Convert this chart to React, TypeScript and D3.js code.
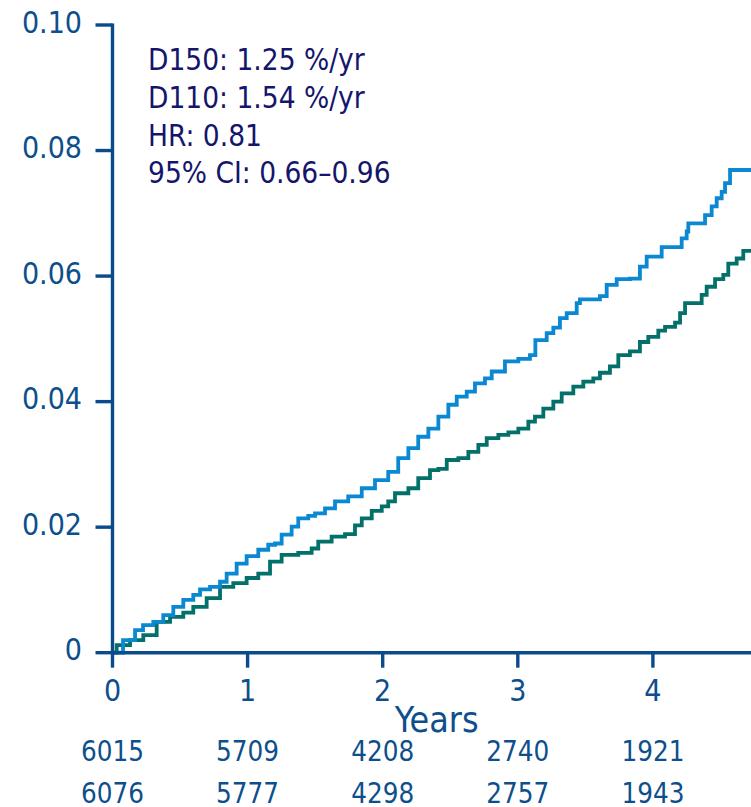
import React from "react";
import * as d3 from "d3";

// Cumulative incidence step curves (years, proportion)
const d110Times = [0, 0.078, 0.167, 0.226, 0.302, 0.376, 0.45, 0.524, 0.598, 0.648, 0.722, 0.796, 0.845, 0.919, 0.993, 1.079, 1.153, 1.203, 1.252, 1.326, 1.375, 1.449, 1.499, 1.573, 1.647, 1.745, 1.845, 1.943, 2.041, 2.115, 2.19, 2.263, 2.338, 2.412, 2.486, 2.548, 2.622, 2.683, 2.757, 2.807, 2.905, 3.004, 3.09, 3.13, 3.214, 3.263, 3.312, 3.362, 3.436, 3.46, 3.608, 3.658, 3.732, 3.83, 3.904, 3.954, 4.065, 4.213, 4.25, 4.262, 4.386, 4.435, 4.472, 4.509, 4.534, 4.571, 4.8];
const d110Values = [0, 0.002, 0.0036, 0.0044, 0.0049, 0.006, 0.0073, 0.0084, 0.0092, 0.0101, 0.0105, 0.0113, 0.0126, 0.0142, 0.0154, 0.0164, 0.0172, 0.0174, 0.0188, 0.0201, 0.0214, 0.0218, 0.0222, 0.023, 0.0241, 0.0249, 0.0262, 0.0275, 0.0288, 0.031, 0.0326, 0.0344, 0.0357, 0.0376, 0.0395, 0.0408, 0.0416, 0.0429, 0.0437, 0.0448, 0.0464, 0.0468, 0.0474, 0.0498, 0.0509, 0.0518, 0.0533, 0.0541, 0.0557, 0.0563, 0.0568, 0.0586, 0.0595, 0.0596, 0.0615, 0.0631, 0.0646, 0.066, 0.0671, 0.0684, 0.0697, 0.0711, 0.0724, 0.0734, 0.0748, 0.0769, 0.0769];

const d150Times = [0, 0.031, 0.13, 0.228, 0.327, 0.426, 0.524, 0.598, 0.697, 0.796, 0.894, 0.993, 1.079, 1.166, 1.252, 1.375, 1.474, 1.523, 1.622, 1.721, 1.795, 1.845, 1.919, 1.993, 2.041, 2.091, 2.19, 2.263, 2.35, 2.412, 2.474, 2.56, 2.634, 2.708, 2.77, 2.856, 2.93, 3.004, 3.078, 3.127, 3.189, 3.263, 3.325, 3.411, 3.485, 3.559, 3.608, 3.682, 3.744, 3.83, 3.904, 3.966, 4.04, 4.09, 4.164, 4.201, 4.238, 4.361, 4.398, 4.46, 4.521, 4.558, 4.62, 4.669, 4.8];
const d150Values = [0, 0.0012, 0.002, 0.0028, 0.0049, 0.0057, 0.0064, 0.0073, 0.0087, 0.0105, 0.0111, 0.0119, 0.0126, 0.0145, 0.0156, 0.0159, 0.0166, 0.0177, 0.0185, 0.0189, 0.0203, 0.0214, 0.0226, 0.0233, 0.0241, 0.0254, 0.0262, 0.0278, 0.0291, 0.0293, 0.0307, 0.031, 0.032, 0.0331, 0.0342, 0.0347, 0.0351, 0.0357, 0.0368, 0.0376, 0.0389, 0.04, 0.0413, 0.0424, 0.0432, 0.0437, 0.0446, 0.0456, 0.0474, 0.048, 0.0495, 0.0503, 0.0513, 0.0519, 0.0526, 0.0541, 0.0557, 0.057, 0.0583, 0.0595, 0.0602, 0.062, 0.0628, 0.064, 0.064];

const xTicks = [0, 1, 2, 3, 4];
const yTicks = [0, 0.02, 0.04, 0.06, 0.08, 0.1];
const yTickLabels = ["0", "0.02", "0.04", "0.06", "0.08", "0.10"];
const atRiskD150 = [6015, 5709, 4208, 2740, 1921];
const atRiskD110 = [6076, 5777, 4298, 2757, 1943];
const statLines = ["D150: 1.25 %/yr", "D110: 1.54 %/yr", "HR: 0.81", "95% CI: 0.66\u20130.96"];

const W = 751;
const H = 807;
const FONT = "'DejaVu Sans Condensed', 'DejaVu Sans', sans-serif";
const AXIS = "#0a4b8c";
const LABEL = "#0d4f8c";
const NAVY = "#15156c";
const BLUE = "#0a88d2";
const GREEN = "#03706a";

export default function App() {
  const x = d3.scaleLinear().domain([0, 5]).range([112.5, 112.5 + 5 * 135.1]);
  const y = d3.scaleLinear().domain([0, 0.1]).range([652.7, 25]);

  const line = d3
    .line<[number, number]>()
    .x((d) => x(d[0]))
    .y((d) => y(d[1]))
    .curve(d3.curveStepAfter);

  const blue = line(d110Times.map((t, i) => [t, d110Values[i]]) as [number, number][]) || "";
  const green = line(d150Times.map((t, i) => [t, d150Values[i]]) as [number, number][]) || "";

  const x0 = x(0);
  const y0 = y(0);

  return (
    <svg
      width={W}
      height={H}
      style={{ position: "absolute", left: 0, top: 0, display: "block", background: "#fff" }}
      fontFamily={FONT}
      fontStretch="condensed"
    >
      <rect width={W} height={H} fill="#fff" />

      {/* curves */}
      <path d={green} fill="none" stroke={GREEN} strokeWidth={3.8} strokeLinejoin="miter" />
      <path d={blue} fill="none" stroke={BLUE} strokeWidth={3.8} strokeLinejoin="miter" />

      {/* y axis */}
      <line x1={x0} x2={x0} y1={y(0.1) - 1.5} y2={y0 + 1.5} stroke={AXIS} strokeWidth={3.4} />
      {yTicks.map((v, i) => (
        <g key={"yt" + i}>
          <line x1={x0 - 17} x2={x0} y1={y(v)} y2={y(v)} stroke={AXIS} strokeWidth={3.4} />
          <text x={82} y={y(v) - 3} textAnchor="end" dominantBaseline="central" fontSize={30} fill={LABEL}>
            {yTickLabels[i]}
          </text>
        </g>
      ))}

      {/* x axis */}
      <line x1={x0 - 1.5} x2={W} y1={y0} y2={y0} stroke={AXIS} strokeWidth={3.4} />
      {xTicks.map((t) => (
        <g key={"xt" + t}>
          <line x1={x(t)} x2={x(t)} y1={y0} y2={y0 + 15} stroke={AXIS} strokeWidth={3.4} />
          <text x={x(t)} y={701} textAnchor="middle" fontSize={30} fill={LABEL}>
            {t}
          </text>
        </g>
      ))}
      <text x={436.7} y={731.5} textAnchor="middle" fontSize={35.5} fill={LABEL}>
        Years
      </text>

      {/* numbers at risk */}
      {atRiskD150.map((n, i) => (
        <text key={"r1" + i} x={x(xTicks[i])} y={761} textAnchor="middle" fontSize={27.5} fill={LABEL}>
          {n}
        </text>
      ))}
      {atRiskD110.map((n, i) => (
        <text key={"r2" + i} x={x(xTicks[i])} y={802.5} textAnchor="middle" fontSize={27.5} fill={LABEL}>
          {n}
        </text>
      ))}

      {/* summary statistics */}
      {statLines.map((s, i) => (
        <text key={"s" + i} x={148} y={70 + i * 37.8} fontSize={29.5} fill={NAVY}>
          {s}
        </text>
      ))}
    </svg>
  );
}
